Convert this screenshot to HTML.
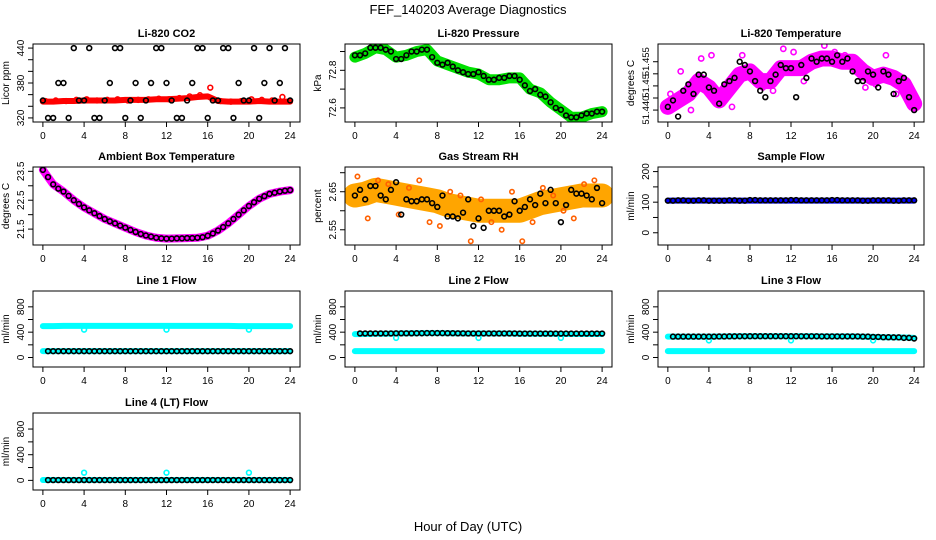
<!DOCTYPE html>
<html><head><meta charset="utf-8"><style>
body{margin:0;background:#fff;}
svg{display:block;font-family:"Liberation Sans",Arial,sans-serif;}
</style></head><body>
<svg id="chart" width="936" height="540" viewBox="0 0 936 540">
<text x="468" y="14" text-anchor="middle" font-size="13">FEF_140203  Average Diagnostics</text>
<text x="468" y="531" text-anchor="middle" font-size="13">Hour of Day (UTC)</text>
</svg>
<script>
const H25=[0,1,2,3,4,5,6,7,8,9,10,11,12,13,14,15,16,17,18,19,20,21,22,23,24];
const HH24=[0.5,1.5,2.5,3.5,4.5,5.5,6.5,7.5,8.5,9.5,10.5,11.5,12.5,13.5,14.5,15.5,16.5,17.5,18.5,19.5,20.5,21.5,22.5,23.5];
const Q24=[0.25,1.25,2.25,3.25,4.25,5.25,6.25,7.25,8.25,9.25,10.25,11.25,12.25,13.25,14.25,15.25,16.25,17.25,18.25,19.25,20.25,21.25,22.25,23.25];
const xTicks=[0,4,8,12,16,20,24];

const co2Band=[348,348,349,349,350,350,350,350,351,351,351,352,352,353,354,356,357,349,348,348,348,349,348,348,348];
const co2Black=[350,320,380,440,350,320,350,440,320,380,350,440,380,320,350,440,320,350,440,380,350,320,440,380,350];
const co2BlackB=[320,380,320,350,440,320,380,440,350,320,380,440,350,320,380,440,350,440,320,350,440,380,350,440];
const co2Red=[349,350,349,351,352,350,351,352,350,351,352,353,352,354,357,359,372,349,348,349,352,351,350,356];

const presBand=[72.87,72.89,72.92,72.91,72.87,72.88,72.9,72.91,72.85,72.83,72.81,72.79,72.78,72.75,72.75,72.76,72.76,72.7,72.68,72.63,72.59,72.55,72.55,72.57,72.58];
const presBlack=[72.88,72.89,72.92,72.91,72.86,72.88,72.9,72.91,72.84,72.84,72.8,72.78,72.79,72.75,72.76,72.77,72.75,72.69,72.67,72.63,72.59,72.55,72.56,72.57,72.58];
const presBlackB=[72.88,72.92,72.92,72.9,72.86,72.9,72.91,72.87,72.83,72.82,72.79,72.78,72.77,72.75,72.76,72.77,72.72,72.7,72.66,72.6,72.56,72.55,72.57,72.58];

const tempBand=[51.441,51.443,51.445,51.449,51.447,51.443,51.447,51.451,51.452,51.449,51.449,51.453,51.453,51.453,51.455,51.456,51.456,51.455,51.455,51.452,51.450,51.451,51.450,51.448,51.442];
const tempBlack=[51.441,51.438,51.448,51.451,51.447,51.442,51.449,51.455,51.452,51.446,51.449,51.454,51.453,51.454,51.456,51.456,51.455,51.455,51.452,51.449,51.451,51.452,51.445,51.450,51.440];
const tempBlackB=[51.443,51.446,51.445,51.451,51.446,51.448,51.450,51.454,51.449,51.444,51.451,51.453,51.444,51.450,51.455,51.456,51.457,51.456,51.449,51.452,51.447,51.451,51.449,51.444];
const tempMag=[51.445,51.452,51.440,51.456,51.457,51.444,51.441,51.457,51.450,51.447,51.446,51.459,51.458,51.449,51.462,51.460,51.458,51.457,51.452,51.447,51.448,51.457,51.445,51.444];
const tempTicks=[51.440,51.44375,51.4475,51.45125,51.455];
const tempLabelVals=[51.440,51.4475,51.455];
const tempLabelText=['51.440','51.45','51.455'];

const ambBand=[23.55,23.05,22.8,22.5,22.25,22.05,21.85,21.7,21.55,21.4,21.28,21.2,21.17,21.18,21.19,21.2,21.27,21.45,21.7,22.0,22.3,22.55,22.72,22.8,22.85];
const ambBlackB=[23.3,22.9,22.65,22.37,22.15,21.95,21.77,21.62,21.47,21.33,21.24,21.18,21.17,21.18,21.19,21.22,21.35,21.57,21.85,22.15,22.43,22.64,22.76,22.83];

const rhBand=[2.64,2.645,2.655,2.65,2.645,2.64,2.635,2.63,2.625,2.615,2.61,2.605,2.6,2.6,2.6,2.6,2.6,2.61,2.62,2.625,2.63,2.635,2.64,2.64,2.64];
const rhBlack=[2.64,2.63,2.665,2.63,2.675,2.63,2.625,2.63,2.61,2.585,2.58,2.63,2.58,2.6,2.6,2.59,2.6,2.63,2.645,2.655,2.57,2.655,2.645,2.63,2.62];
const rhBlackB=[2.655,2.665,2.64,2.655,2.59,2.625,2.63,2.62,2.64,2.585,2.595,2.56,2.555,2.6,2.585,2.625,2.61,2.615,2.62,2.62,2.615,2.645,2.64,2.66];
const rhOrange=[2.69,2.58,2.68,2.67,2.59,2.66,2.68,2.57,2.56,2.65,2.64,2.52,2.63,2.57,2.55,2.65,2.52,2.57,2.66,2.64,2.6,2.58,2.67,2.68];

const sfBand=[105,105,105,105,105,105,105,105,105,105,105,105,105,105,105,105,105,105,105,105,105,105,105,105,105];
const sfBlack=[105,106,105,106,105,105,106,105,107,106,106,106,107,106,106,106,107,106,106,105,106,106,105,106,106];

const l1Cyan=[495,495,500,500,500,500,500,500,500,500,500,500,500,500,500,500,500,500,500,495,495,495,495,495,495];
const l1CyanB=[100,100,100,100,100,100,100,100,100,100,100,100,100,100,100,100,100,100,100,100,100,100,100,100,100];
const l1Black=[100,100,100,100,100,100,100,100,100,100,100,100,100,100,100,100,100,100,100,100,100,100,100,100,100];
const l2Cyan=[370,372,375,375,378,380,382,385,385,383,380,378,378,378,378,378,375,375,375,375,372,372,372,372,372];
const l2Black=[380,380,380,380,382,382,383,385,385,384,382,380,380,380,380,380,378,378,378,378,378,378,378,378,378];
const l3Cyan=[330,330,330,330,330,332,334,335,336,336,336,336,336,335,335,333,333,333,333,330,325,320,318,315,310];
const l3Black=[330,330,330,330,330,332,334,335,336,336,336,336,336,335,335,333,333,333,333,330,325,320,318,310,300];
const l4Cyan=[5,5,5,5,5,5,5,5,5,5,5,5,5,5,5,5,5,5,5,5,5,5,5,5,5];
const l4Black=[5,5,5,5,5,5,5,5,5,5,5,5,5,5,5,5,5,5,5,5,5,5,5,5,5];
const outHours=[4,12,20];
const l1Out=[440,440,440];
const l2Out=[310,310,310];
const l3Out=[270,270,270];
const l4Out=[120,120,120];

const NS="http://www.w3.org/2000/svg";
const svg=document.getElementById('chart');
function mk(tag,attrs,parent){const e=document.createElementNS(NS,tag);for(const k in attrs)e.setAttribute(k,attrs[k]);(parent||svg).appendChild(e);return e;}

function panel(cfg){
  const g=mk('g',{});
  
  
  const L=cfg.box[0],T=cfg.box[1],R=cfg.box[2],B=cfg.box[3];
  const xmin=-0.96,xmax=24.96;
  const sx=v=>L+(v-xmin)/(xmax-xmin)*(R-L);
  const sy=v=>B-(v-cfg.ylim[0])/(cfg.ylim[1]-cfg.ylim[0])*(B-T);
  const clip='c'+cfg.name;
  const cp=mk('clipPath',{id:clip},g);mk('rect',{x:L,y:T,width:R-L,height:B-T},cp);
  const plot=mk('g',{'clip-path':'url(#'+clip+')'},g);
  (cfg.bands||[]).forEach(b=>{
    const pl=mk('polyline',{points:b.hours.map((h,i)=>sx(h)+','+sy(b.vals[i])).join(' '),fill:'none',stroke:b.color,'stroke-width':b.w,'stroke-linejoin':'round','stroke-linecap':'round'},plot);
    
    
  });
  (cfg.pts||[]).forEach(p=>{
    p.hours.forEach((h,i)=>{
      if(p.vals[i]===undefined)return;
      const c=mk('circle',{cx:sx(h),cy:sy(p.vals[i]),r:p.r||2.4,fill:'none',stroke:p.color,'stroke-width':p.sw||1.6},plot);
      
      
    });
  });
  const box=mk('rect',{x:L,y:T,width:R-L,height:B-T,fill:'none',stroke:'#000','stroke-width':1},g);
  
  
  const t=mk('text',{x:(L+R)/2,y:T-7,'text-anchor':'middle','font-size':11,'font-weight':'bold'},g);
  t.textContent=cfg.title;
  
  
  xTicks.forEach(v=>{
    mk('line',{x1:sx(v),x2:sx(v),y1:B,y2:B+5,stroke:'#000'},g);
    const tx=mk('text',{x:sx(v),y:B+17,'text-anchor':'middle','font-size':10},g);
    tx.textContent=v;
    
    
  });
  cfg.yticks.forEach(v=>{
    mk('line',{x1:L,x2:L-5,y1:sy(v),y2:sy(v),stroke:'#000'},g);
  });
  const labText=cfg.ylabelText||cfg.ylabels;
  cfg.ylabels.forEach((v,i)=>{
    const y=sy(v);
    const ty=mk('text',{x:L-9,y:y,'text-anchor':'middle','font-size':cfg.ylabelSize||10,transform:'rotate(-90 '+(L-9)+' '+y+')'},g);
    ty.textContent=labText[i];
    
    
  });
  const yl=(T+B)/2;
  const ya=mk('text',{x:L-24,y:yl,'text-anchor':'middle','font-size':10,transform:'rotate(-90 '+(L-24)+' '+yl+')'},g);
  ya.textContent=cfg.ylab;
  
  
}
const C1=[33,300],C2=[345,612],C3=[658,924];
const R1=[44,122],R2=[167,245],R3=[291,367],R4=[413,490];
const flowY=[-150,1050],flowT=[0,200,400,600,800],flowL=[0,400,800];

panel({name:'co2-panel',title:'Li-820 CO2',ylab:'Licor ppm',box:[C1[0],R1[0],C1[1],R1[1]],ylim:[313,447],
 yticks:[320,340,360,380,400,420,440],ylabels:[320,380,440],
 bands:[{hours:H25,vals:co2Band,color:'#ff0000',w:6}],
 pts:[{hours:Q24,vals:co2Red,color:'#ff0000'},{hours:H25,vals:co2Black,color:'#000'},{hours:HH24,vals:co2BlackB,color:'#000'}]});
panel({name:'pressure-panel',title:'Li-820 Pressure',ylab:'kPa',box:[C2[0],R1[0],C2[1],R1[1]],ylim:[72.525,72.94],
 yticks:[72.6,72.7,72.8,72.9],ylabels:[72.6,72.8],
 bands:[{hours:H25,vals:presBand,color:'#00e000',w:11}],
 pts:[{hours:H25,vals:presBlack,color:'#000'},{hours:HH24,vals:presBlackB,color:'#000'}]});
panel({name:'li820-temp-panel',title:'Li-820 Temperature',ylab:'degrees C',box:[C3[0],R1[0],C3[1],R1[1]],ylim:[51.4363,51.4605],
 yticks:tempTicks,ylabels:tempLabelVals,ylabelText:tempLabelText,ylabelSize:9.5,
 bands:[{hours:H25,vals:tempBand,color:'#ff00ff',w:16}],
 pts:[{hours:Q24,vals:tempMag,color:'#ff00ff',r:2.6},{hours:H25,vals:tempBlack,color:'#000'},{hours:HH24,vals:tempBlackB,color:'#000'}]});
panel({name:'ambient-temp-panel',title:'Ambient Box Temperature',ylab:'degrees C',box:[C1[0],R2[0],C1[1],R2[1]],ylim:[20.95,23.65],
 yticks:[21.5,22,22.5,23,23.5],ylabels:[21.5,22.5,23.5],
 bands:[{hours:H25,vals:ambBand,color:'#ff00ff',w:8}],
 pts:[{hours:H25,vals:ambBand,color:'#000'},{hours:HH24,vals:ambBlackB,color:'#000'}]});
panel({name:'rh-panel',title:'Gas Stream RH',ylab:'percent',box:[C2[0],R2[0],C2[1],R2[1]],ylim:[2.51,2.715],
 yticks:[2.55,2.6,2.65,2.7],ylabels:[2.55,2.65],
 bands:[{hours:H25,vals:rhBand,color:'#ffa500',w:24}],
 pts:[{hours:Q24,vals:rhOrange,color:'#ff6000',r:2.2},{hours:H25,vals:rhBlack,color:'#000'},{hours:HH24,vals:rhBlackB,color:'#000'}]});
panel({name:'sample-flow-panel',title:'Sample Flow',ylab:'ml/min',box:[C3[0],R2[0],C3[1],R2[1]],ylim:[-40,215],
 yticks:[0,50,100,150,200],ylabels:[0,100,200],
 bands:[{hours:H25,vals:sfBand,color:'#0000ff',w:6}],
 pts:[{hours:H25,vals:sfBlack,color:'#000'},{hours:HH24,vals:sfBlack,color:'#000'}]});
panel({name:'line1-flow-panel',title:'Line 1 Flow',ylab:'ml/min',box:[C1[0],R3[0],C1[1],R3[1]],ylim:flowY,yticks:flowT,ylabels:flowL,
 bands:[{hours:H25,vals:l1Cyan,color:'#00ffff',w:6},{hours:H25,vals:l1CyanB,color:'#00ffff',w:6}],
 pts:[{hours:outHours,vals:l1Out,color:'#00ffff'},{hours:H25.slice(1),vals:l1Black,color:'#000'},{hours:HH24,vals:l1Black,color:'#000'}]});
panel({name:'line2-flow-panel',title:'Line 2 Flow',ylab:'ml/min',box:[C2[0],R3[0],C2[1],R3[1]],ylim:flowY,yticks:flowT,ylabels:flowL,
 bands:[{hours:H25,vals:l2Cyan,color:'#00ffff',w:6},{hours:H25,vals:l1CyanB,color:'#00ffff',w:6}],
 pts:[{hours:outHours,vals:l2Out,color:'#00ffff'},{hours:H25.slice(1),vals:l2Black.slice(1),color:'#000'},{hours:HH24,vals:l2Black,color:'#000'}]});
panel({name:'line3-flow-panel',title:'Line 3 Flow',ylab:'ml/min',box:[C3[0],R3[0],C3[1],R3[1]],ylim:flowY,yticks:flowT,ylabels:flowL,
 bands:[{hours:H25,vals:l3Cyan,color:'#00ffff',w:6},{hours:H25,vals:l1CyanB,color:'#00ffff',w:6}],
 pts:[{hours:outHours,vals:l3Out,color:'#00ffff'},{hours:H25.slice(1),vals:l3Black.slice(1),color:'#000'},{hours:HH24,vals:l3Black,color:'#000'}]});
panel({name:'line4-flow-panel',title:'Line 4 (LT) Flow',ylab:'ml/min',box:[C1[0],R4[0],C1[1],R4[1]],ylim:flowY,yticks:flowT,ylabels:flowL,
 bands:[{hours:H25,vals:l4Cyan,color:'#00ffff',w:6}],
 pts:[{hours:outHours,vals:l4Out,color:'#00ffff'},{hours:H25.slice(1),vals:l4Black,color:'#000'},{hours:HH24,vals:l4Black,color:'#000'}]});
</script>
</body></html>
